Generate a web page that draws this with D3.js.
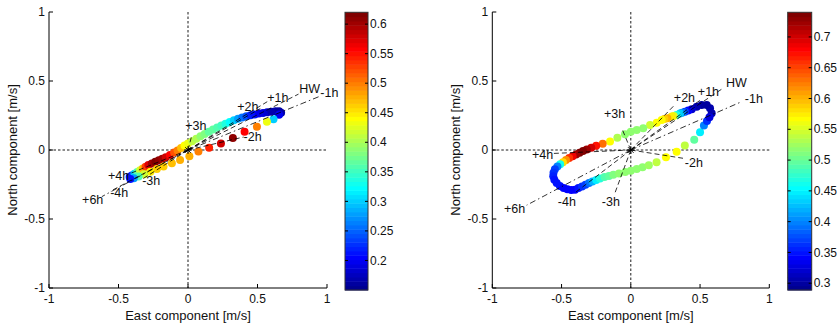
<!DOCTYPE html>
<html><head><meta charset="utf-8">
<script src="https://cdn.jsdelivr.net/npm/d3@7/dist/d3.min.js"></script>
<style>
html,body{margin:0;padding:0;background:#fff;}
svg{display:block;font-family:"Liberation Sans",Arial,sans-serif;}
</style></head>
<body>
<svg id="chart" width="837" height="328"></svg>
<script>
// ---------------- DATA ----------------
const axisTicks = [-1, -0.5, 0, 0.5, 1];
const axisTickLabels = ["-1", "-0.5", "0", "0.5", "1"];
const xLabel = "East component [m/s]";
const yLabel = "North component [m/s]";

// Left panel
const leftEast = [-0.42,-0.405,-0.385,-0.365,-0.345,-0.325,-0.305,-0.285,-0.26,-0.235,-0.21,-0.185,-0.16,-0.13,-0.1,-0.075,-0.05,-0.025,0.0,0.03,0.06,0.09,0.12,0.15,0.18,0.21,0.24,0.27,0.3,0.33,0.36,0.39,0.42,0.45,0.48,0.51,0.54,0.57,0.6,0.63,0.655,0.67,0.655,
  0.615,0.568,0.496,0.407,0.323,0.237,0.152,0.075,0.01,-0.057,-0.116,-0.176,-0.224,-0.27,-0.315,-0.355,-0.39,-0.415];
const leftNorth = [-0.195,-0.185,-0.172,-0.16,-0.147,-0.134,-0.121,-0.108,-0.097,-0.086,-0.075,-0.063,-0.052,-0.036,-0.018,-0.003,0.015,0.032,0.047,0.064,0.082,0.1,0.116,0.132,0.148,0.163,0.177,0.19,0.203,0.215,0.226,0.236,0.245,0.252,0.258,0.264,0.269,0.274,0.278,0.281,0.281,0.27,0.255,
  0.222,0.205,0.169,0.133,0.087,0.048,0.017,-0.01,-0.045,-0.072,-0.096,-0.12,-0.138,-0.157,-0.175,-0.192,-0.205,-0.21];
const leftValue = [0.2,0.22,0.3,0.36,0.42,0.47,0.53,0.57,0.6,0.615,0.61,0.6,0.58,0.56,0.52,0.5,0.47,0.44,0.43,0.41,0.4,0.385,0.38,0.37,0.365,0.36,0.35,0.34,0.32,0.3,0.28,0.26,0.24,0.22,0.21,0.2,0.19,0.18,0.17,0.165,0.16,0.17,0.2,
  0.3,0.43,0.5,0.56,0.61,0.58,0.54,0.5,0.48,0.475,0.47,0.465,0.46,0.45,0.42,0.36,0.28,0.21];
const leftColorDomain = [0.15, 0.62];
const leftColorTicks = [0.2, 0.25, 0.3, 0.35, 0.4, 0.45, 0.5, 0.55, 0.6];
const leftHourText = ["+6h","-4h","+4h","-3h","+3h","+2h","+1h","HW","-1h","-2h"];
const leftHourLabelEast  = [-0.762,-0.56,-0.575,-0.33,-0.02,0.354,0.57,0.80,0.952,0.40];
const leftHourLabelNorth = [-0.362,-0.31,-0.188,-0.225,0.174,0.312,0.377,0.442,0.413,0.094];
const leftHourLineEast   = [-0.62,-0.56,-0.44,-0.335,0.028,0.52,0.57,0.795,0.95,0.40];
const leftHourLineNorth  = [-0.338,-0.30,-0.18,-0.215,0.108,0.30,0.35,0.405,0.39,0.094];

// Right panel
const rightEast = [0.584,0.572,0.548,0.512,0.476,0.44,0.415,0.391,0.37,0.355,0.331,0.31,0.295,0.264,0.242,0.223,0.187,0.139,0.09,0.043,0.0,-0.042,-0.097,-0.15,-0.203,-0.25,-0.285,-0.318,-0.345,-0.37,-0.395,-0.42,-0.445,-0.468,-0.49,-0.51,-0.53,-0.548,-0.558,-0.56,-0.552,-0.535,-0.512,-0.485,-0.458,-0.43,-0.403,-0.378,-0.352,-0.327,-0.302,-0.277,-0.25,-0.222,-0.19,-0.158,-0.126,-0.085,-0.04,0.0,0.043,0.085,0.13,0.186,0.254,0.331,0.39,0.458,0.5,0.528,0.55,0.568];
const rightNorth = [0.266,0.302,0.326,0.326,0.314,0.295,0.286,0.278,0.27,0.264,0.254,0.247,0.242,0.23,0.224,0.217,0.198,0.181,0.157,0.145,0.132,0.115,0.088,0.062,0.045,0.03,0.016,0.004,-0.008,-0.02,-0.032,-0.045,-0.058,-0.072,-0.088,-0.104,-0.12,-0.14,-0.165,-0.19,-0.215,-0.24,-0.26,-0.275,-0.285,-0.29,-0.288,-0.276,-0.264,-0.252,-0.24,-0.228,-0.217,-0.206,-0.196,-0.188,-0.18,-0.17,-0.16,-0.15,-0.138,-0.125,-0.11,-0.088,-0.053,-0.012,0.033,0.075,0.128,0.177,0.21,0.238];
const rightValue = [0.31,0.305,0.3,0.3,0.31,0.32,0.34,0.37,0.4,0.43,0.47,0.55,0.575,0.6,0.585,0.57,0.565,0.545,0.52,0.515,0.515,0.515,0.53,0.57,0.63,0.67,0.7,0.725,0.74,0.735,0.72,0.69,0.66,0.62,0.58,0.46,0.4,0.37,0.36,0.355,0.35,0.35,0.35,0.345,0.34,0.34,0.345,0.35,0.36,0.37,0.39,0.42,0.45,0.47,0.49,0.5,0.51,0.515,0.515,0.515,0.515,0.52,0.525,0.54,0.565,0.565,0.54,0.5,0.45,0.4,0.36,0.33];
const rightColorDomain = [0.289, 0.74];
const rightColorTicks = [0.3, 0.35, 0.4, 0.45, 0.5, 0.55, 0.6, 0.65, 0.7];
const rightHourText = ["+6h","-4h","+4h","-3h","+3h","+2h","+1h","HW","-1h","-2h"];
const rightHourLabelEast  = [-0.915,-0.527,-0.713,-0.209,-0.194,0.311,0.484,0.687,0.823,0.39];
const rightHourLabelNorth = [-0.428,-0.377,-0.036,-0.377,0.26,0.377,0.42,0.486,0.37,-0.094];
const rightHourLineEast   = [-0.752,-0.403,-0.56,-0.114,-0.066,0.32,0.50,0.658,0.80,0.377];
const rightHourLineNorth  = [-0.40,-0.31,-0.025,-0.31,0.16,0.33,0.36,0.442,0.35,-0.06];

// ---------------- RENDER ----------------
const dashDotHours = new Set(["+6h","-1h"]);

function jet(m){
  const n = Math.ceil(m/4);
  const u = [];
  for(let k=1;k<=n;k++) u.push(k/n);
  for(let k=0;k<n-1;k++) u.push(1);
  for(let k=n;k>=1;k--) u.push(k/n);
  const g0 = Math.ceil(n/2) - (m%4===1?1:0);
  const J = Array.from({length:m},()=>[0,0,0]);
  for(let i=0;i<u.length;i++){
    const gi=g0+i, ri=gi+n, bi=gi-n;
    if(gi>=0&&gi<m) J[gi][1]=u[i];
    if(ri>=0&&ri<m) J[ri][0]=u[i];
    if(bi>=0&&bi<m) J[bi][2]=u[i];
  }
  return J.map(c=>d3.rgb(c[0]*255,c[1]*255,c[2]*255).formatHex());
}
const jetColors = jet(64);

const panels = [
  {east:leftEast,north:leftNorth,value:leftValue,cdom:leftColorDomain,cticks:leftColorTicks,
   ht:leftHourText,hle:leftHourLabelEast,hln:leftHourLabelNorth,hxe:leftHourLineEast,hxn:leftHourLineNorth,
   x0:49,x1:327,y0:12,y1:288,cx0:345,cx1:368,cy0:12.3,cy1:290,star:true},
  {east:rightEast,north:rightNorth,value:rightValue,cdom:rightColorDomain,cticks:rightColorTicks,
   ht:rightHourText,hle:rightHourLabelEast,hln:rightHourLabelNorth,hxe:rightHourLineEast,hxn:rightHourLineNorth,
   x0:492.3,x1:769.3,y0:12,y1:288,cx0:787.7,cx1:811.7,cy0:12.3,cy1:290,star:true}
];

const svg = d3.select("#chart");
const textColor = "#111";

panels.forEach(p=>{
  const g = svg.append("g");
  const x = d3.scaleLinear().domain([-1,1]).range([p.x0,p.x1]);
  const y = d3.scaleLinear().domain([-1,1]).range([p.y1,p.y0]);
  const color = d3.scaleQuantize().domain(p.cdom).range(jetColors);

  // zero dotted lines
  g.append("line").attr("x1",x(0)).attr("x2",x(0)).attr("y1",y(1)).attr("y2",y(-1))
    .attr("stroke","#000").attr("stroke-width",0.9).attr("stroke-dasharray","2.5,2");
  g.append("line").attr("x1",x(-1)).attr("x2",x(1)).attr("y1",y(0)).attr("y2",y(0))
    .attr("stroke","#000").attr("stroke-width",0.9).attr("stroke-dasharray","2.5,2");

  // points
  const pts = p.east.map((e,i)=>({e, n:p.north[i], v:p.value[i]}));
  g.append("g").selectAll("circle").data(pts).join("circle")
    .attr("cx",d=>x(d.e)).attr("cy",d=>y(d.n)).attr("r",4)
    .attr("fill",d=>color(d.v));

  // hour lines
  const hours = p.ht.map((t,i)=>({t, le:p.hle[i], ln:p.hln[i], xe:p.hxe[i], xn:p.hxn[i]}));
  g.append("g").selectAll("line").data(hours).join("line")
    .attr("x1",x(0)).attr("y1",y(0)).attr("x2",d=>x(d.xe)).attr("y2",d=>y(d.xn))
    .attr("stroke","#000").attr("stroke-width",0.8)
    .attr("stroke-dasharray",d=>dashDotHours.has(d.t)?"6,3,1.5,3":"5,3");

  // star at origin
  if(p.star){
    const s=4, cx=x(0), cy=y(0);
    const sg=g.append("g").attr("stroke","#000").attr("stroke-width",0.9);
    [[-s,0,s,0],[0,-s,0,s],[-s*0.7,-s*0.7,s*0.7,s*0.7],[-s*0.7,s*0.7,s*0.7,-s*0.7]].forEach(l=>{
      sg.append("line").attr("x1",cx+l[0]).attr("y1",cy+l[1]).attr("x2",cx+l[2]).attr("y2",cy+l[3]);
    });
  }

  // hour labels
  g.append("g").selectAll("text").data(hours).join("text")
    .attr("x",d=>x(d.le)).attr("y",d=>y(d.ln)).attr("dy","0.35em")
    .attr("font-size","12.5px").attr("fill",textColor).text(d=>d.t);

  // axes lines
  g.append("line").attr("x1",p.x0).attr("x2",p.x0).attr("y1",p.y0).attr("y2",p.y1).attr("stroke","#000").attr("stroke-width",1);
  g.append("line").attr("x1",p.x0).attr("x2",p.x1).attr("y1",p.y1).attr("y2",p.y1).attr("stroke","#000").attr("stroke-width",1);
  // ticks (inward)
  axisTicks.forEach((t,i)=>{
    g.append("line").attr("x1",x(t)).attr("x2",x(t)).attr("y1",p.y1).attr("y2",p.y1-4).attr("stroke","#000");
    g.append("line").attr("x1",p.x0).attr("x2",p.x0+4).attr("y1",y(t)).attr("y2",y(t)).attr("stroke","#000");
    g.append("text").attr("x",x(t)).attr("y",p.y1+11).attr("dy","0.35em").attr("text-anchor","middle")
      .attr("font-size","12px").attr("fill",textColor).text(axisTickLabels[i]);
    g.append("text").attr("x",p.x0-4).attr("y",y(t)).attr("dy","0.35em").attr("text-anchor","end")
      .attr("font-size","12px").attr("fill",textColor).text(axisTickLabels[i]);
  });
  // axis labels
  g.append("text").attr("x",(p.x0+p.x1)/2).attr("y",315).attr("dy","0.35em").attr("text-anchor","middle")
    .attr("font-size","13px").attr("fill",textColor).text(xLabel);
  const ylx = p.x0 - 37;
  g.append("text").attr("transform",`translate(${ylx},${(p.y0+p.y1)/2}) rotate(-90)`).attr("dy","0.35em")
    .attr("text-anchor","middle").attr("font-size","13px").attr("fill",textColor).text(yLabel);

  // colorbar
  const cy = d3.scaleLinear().domain(p.cdom).range([p.cy1,p.cy0]);
  const bands = jetColors.map((c,i)=>({c, lo:p.cdom[0]+(p.cdom[1]-p.cdom[0])*i/64, hi:p.cdom[0]+(p.cdom[1]-p.cdom[0])*(i+1)/64}));
  const cb = svg.append("g");
  cb.selectAll("rect").data(bands).join("rect")
    .attr("x",p.cx0).attr("width",p.cx1-p.cx0)
    .attr("y",d=>cy(d.hi)).attr("height",d=>cy(d.lo)-cy(d.hi)+0.5)
    .attr("fill",d=>d.c);
  cb.append("rect").attr("x",p.cx0).attr("y",p.cy0).attr("width",p.cx1-p.cx0).attr("height",p.cy1-p.cy0)
    .attr("fill","none").attr("stroke","#333").attr("stroke-width",1);
  p.cticks.forEach(t=>{
    cb.append("line").attr("x1",p.cx0).attr("x2",p.cx0+3).attr("y1",cy(t)).attr("y2",cy(t)).attr("stroke","#000");
    cb.append("line").attr("x1",p.cx1).attr("x2",p.cx1-3).attr("y1",cy(t)).attr("y2",cy(t)).attr("stroke","#000");
    cb.append("text").attr("x",p.cx1+2).attr("y",cy(t)).attr("dy","0.35em")
      .attr("font-size","12px").attr("fill",textColor).text(d3.format("")(t));
  });
});
</script>
</body></html>
